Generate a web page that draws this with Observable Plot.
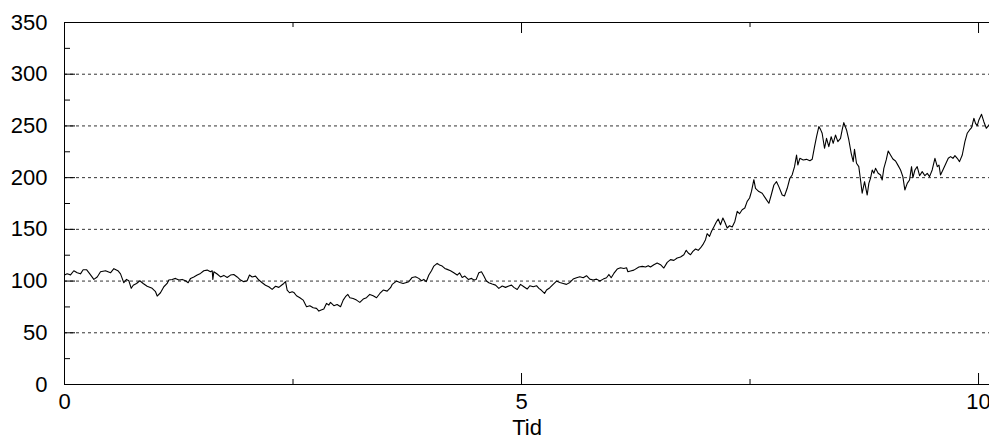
<!DOCTYPE html>
<html><head><meta charset="utf-8">
<script src="https://cdn.jsdelivr.net/npm/d3@7"></script>
<script src="https://cdn.jsdelivr.net/npm/@observablehq/plot@0.6"></script>
<style>html,body{margin:0;padding:0;background:#fff;} svg{display:block}</style>
</head><body><div id="chart"></div>
<script>
const yTicks = [0, 50, 100, 150, 200, 250, 300, 350];
const yGrid = [50, 100, 150, 200, 250, 300];
const yMinor = [25, 75, 125, 175, 225, 275, 325];
const xTicks = [0, 5, 10];
const xMinor = [2.5, 7.5];
const xLabel = "Tid";

// [tid, verdi]
const seg1 = [[0,105.8],[0.029,107],[0.066,106],[0.102,110],[0.139,108],[0.175,107],[0.204,111],[0.241,111],[0.277,107],[0.321,101.6],[0.358,104],[0.394,109],[0.449,110],[0.503,108],[0.540,112],[0.584,110],[0.613,107],[0.631,102.6],[0.649,98.4],[0.678,101.6],[0.704,100.3],[0.730,93],[0.752,96],[0.788,97.7],[0.824,100.3],[0.861,97.7],[0.904,95],[0.959,93],[0.996,89.7],[1.014,85.5],[1.050,88.7],[1.087,94.5],[1.123,97.7],[1.141,101],[1.178,101.6],[1.214,102.6]];
const seg2 = [[1.251,101],[1.288,101.6],[1.324,100.3],[1.353,98.4],[1.379,102.6],[1.415,104],[1.452,105.8],[1.488,107.4],[1.524,110],[1.561,110.6],[1.597,109],[1.616,110],[1.623,101.6],[1.634,109],[1.670,106.8],[1.707,104],[1.743,105.5],[1.780,103.5],[1.816,105.8],[1.852,106.4],[1.889,104],[1.926,101],[1.962,99.4],[1.998,100.3],[2.024,105.8],[2.053,104],[2.090,104.8],[2.126,101],[2.163,98.4],[2.199,96],[2.235,94.5],[2.272,92],[2.309,95],[2.345,93.9],[2.374,96],[2.399,97.7],[2.418,99.4],[2.436,91.3],[2.462,88.7],[2.491,89.7]];
const seg3 = [[2.509,89],[2.538,85.8],[2.575,83.9],[2.611,81.6],[2.648,75.2],[2.684,76.2],[2.721,74.2],[2.757,73.6],[2.783,71],[2.808,72],[2.837,72.9],[2.866,78.4],[2.892,76.8],[2.910,79.4],[2.947,76.2],[2.983,77.4],[3.020,75.2],[3.049,81.6],[3.074,84.9],[3.100,87.1],[3.122,83.9],[3.158,83.2],[3.195,81.6],[3.231,79.4],[3.268,82.6],[3.304,83.9],[3.340,87.1],[3.377,85.8],[3.414,83.9],[3.450,88],[3.487,91.3],[3.530,90.3],[3.567,93.6],[3.585,96.8],[3.632,100],[3.669,98.7],[3.705,97.7],[3.742,98.7]];
const seg4 = [[3.767,99.4],[3.804,103.5],[3.840,104.2],[3.876,102.6],[3.906,100.3],[3.931,101.6],[3.957,99.4],[3.986,105.8],[4.015,110],[4.041,114.5],[4.077,117.1],[4.103,115.5],[4.132,114.5],[4.161,112.2],[4.187,111.3],[4.223,110],[4.259,108],[4.296,105.8],[4.322,108],[4.351,103.5],[4.380,104.8],[4.417,101.6],[4.453,102.6],[4.478,101],[4.504,101.6],[4.533,108],[4.562,109],[4.588,104.8],[4.614,100.3],[4.642,98.4],[4.679,97.1],[4.716,96.1],[4.752,92.9],[4.789,95.2],[4.825,93.9],[4.861,95.2],[4.891,96.1],[4.916,93.9],[4.953,91.9]];
const seg5 = [[4.989,96.8],[5.026,94.5],[5.062,92.3],[5.091,95.5],[5.128,94.5],[5.164,95.5],[5.190,92.9],[5.215,91.3],[5.252,88.1],[5.274,91.3],[5.310,93.6],[5.346,96.8],[5.383,100],[5.419,98.7],[5.456,97.7],[5.492,96.8],[5.529,98.7],[5.565,101.9],[5.602,103.2],[5.638,104.2],[5.675,103.2],[5.711,105.2],[5.747,101.9],[5.784,101],[5.821,101.9],[5.857,100],[5.894,101.9],[5.930,103.2],[5.956,106.4],[5.981,103.2],[6.010,107.4],[6.047,111.6],[6.083,112.9],[6.120,112.2],[6.149,112.9],[6.164,109],[6.193,109.7],[6.229,110.6]];
const seg6 = [[6.284,113.6],[6.321,114.2],[6.357,113.6],[6.386,114.9],[6.411,113.6],[6.448,115.8],[6.484,117.5],[6.521,115.8],[6.557,112.6],[6.594,118.1],[6.630,120.7],[6.667,120],[6.703,122.3],[6.740,123.3],[6.776,125.5],[6.802,129.7],[6.824,127.1],[6.849,125.5],[6.875,128.7],[6.904,131],[6.933,129.7],[6.958,132],[6.984,135.2],[7.013,140],[7.031,145.8],[7.057,143.2],[7.079,148.1],[7.104,152.3],[7.130,156.8],[7.152,160],[7.177,154.5],[7.203,161],[7.225,156.8],[7.250,151.3],[7.276,153.5],[7.305,152.3],[7.334,157.7],[7.360,167.4],[7.385,165.1],[7.414,169],[7.443,170.6],[7.469,177.1],[7.495,180.3],[7.516,186.7],[7.531,193.2],[7.542,198]];
const seg7 = [[7.560,189.7],[7.597,186.5],[7.633,184.9],[7.670,180],[7.706,175.2],[7.732,183.2],[7.761,192.9],[7.790,196.1],[7.815,191.3],[7.852,183.2],[7.877,182.3],[7.907,189.7],[7.936,199.4],[7.961,202.6],[7.987,210.6],[8.009,221.9],[8.023,212.2],[8.045,218.7],[8.082,217.1],[8.118,217.7],[8.155,216.4],[8.180,217.7],[8.206,230],[8.228,239.6],[8.253,249.3],[8.271,246.7],[8.289,242.9],[8.315,228.4],[8.337,238],[8.362,230],[8.388,239.6],[8.410,233.2],[8.435,241.2],[8.461,234.8],[8.490,238],[8.508,246.1],[8.526,253.2],[8.556,246.1],[8.581,236.4],[8.607,223.5],[8.629,215.5],[8.643,227.4],[8.665,213.9],[8.690,210.6],[8.709,197.7],[8.727,184.9],[8.753,196.1],[8.782,183.2]];
const seg8 = [[8.800,194.5],[8.818,199.4],[8.837,207.4],[8.855,204.2],[8.873,209],[8.902,204.2],[8.928,202.6],[8.946,197.7],[8.964,209],[8.990,217.1],[9.012,225.8],[9.037,221.9],[9.063,218],[9.092,216.1],[9.121,211.6],[9.147,207.4],[9.172,201],[9.194,188.1],[9.220,194.5],[9.245,197.7],[9.267,210.6],[9.282,200],[9.304,207.4],[9.329,210.6],[9.355,201.9],[9.384,205.8],[9.413,201.9],[9.439,204.2],[9.464,201],[9.493,207.4],[9.523,218.7],[9.549,210.6],[9.567,212.2],[9.584,202.6],[9.610,207.4],[9.639,212.9],[9.669,218.7],[9.694,220.3],[9.720,218.7],[9.742,221.3],[9.767,218.7],[9.792,215.5],[9.822,221.9],[9.851,234.8],[9.876,242.9],[9.902,246.1],[9.924,248.3],[9.949,257.4],[9.967,252.5],[9.986,250.3],[10.004,255.8],[10.033,261.2],[10.058,254.1],[10.085,247.7],[10.120,251.6]];

const data = [...seg1, ...seg2, ...seg3, ...seg4, ...seg5, ...seg6, ...seg7, ...seg8].map(([t, v]) => ({t, v}));

const chart = Plot.plot({
  width: 989,
  height: 444,
  marginTop: 22,
  marginBottom: 60,
  marginLeft: 64,
  marginRight: 0,
  x: {domain: [0, 10.12]},
  y: {domain: [0, 350]},
  style: {fontFamily: "'Liberation Sans', Arial, sans-serif", fontSize: "22px", color: "#000", background: "#fff", overflow: "visible"},
  marks: [
    Plot.ruleY(yGrid, {stroke: "#333", strokeWidth: 1, strokeDasharray: "3,3"}),
    Plot.lineY(data, {x: "t", y: "v", stroke: "#000", strokeWidth: 1.1, clip: true}),
    Plot.ruleY([0, 350], {stroke: "#000", strokeWidth: 1}),
    Plot.ruleX([0], {stroke: "#000", strokeWidth: 1}),
    Plot.ruleX(xTicks, {y1: 0, y2: 0, insetTop: -11, stroke: "#000"}),
    Plot.ruleX(xTicks, {y1: 350, y2: 350, insetBottom: -11, stroke: "#000"}),
    Plot.ruleX(xMinor, {y1: 0, y2: 0, insetTop: -5, stroke: "#000"}),
    Plot.ruleX(xMinor, {y1: 350, y2: 350, insetBottom: -5, stroke: "#000"}),
    Plot.ruleY(yGrid, {x1: 0, x2: 0, insetRight: -11, stroke: "#000"}),
    Plot.ruleY(yMinor, {x1: 0, x2: 0, insetRight: -6, stroke: "#000"}),
    Plot.axisY({ticks: yTicks, tickSize: 0, tickPadding: 17, fontSize: 22, label: null}),
    Plot.axisX({ticks: xTicks, tickSize: 0, tickPadding: 9, fontSize: 22, label: null}),
    Plot.text([xLabel], {frameAnchor: "bottom", dy: 50, fontSize: 22, fill: "#000"})
  ]
});
document.getElementById("chart").appendChild(chart);
</script>
</body></html>
